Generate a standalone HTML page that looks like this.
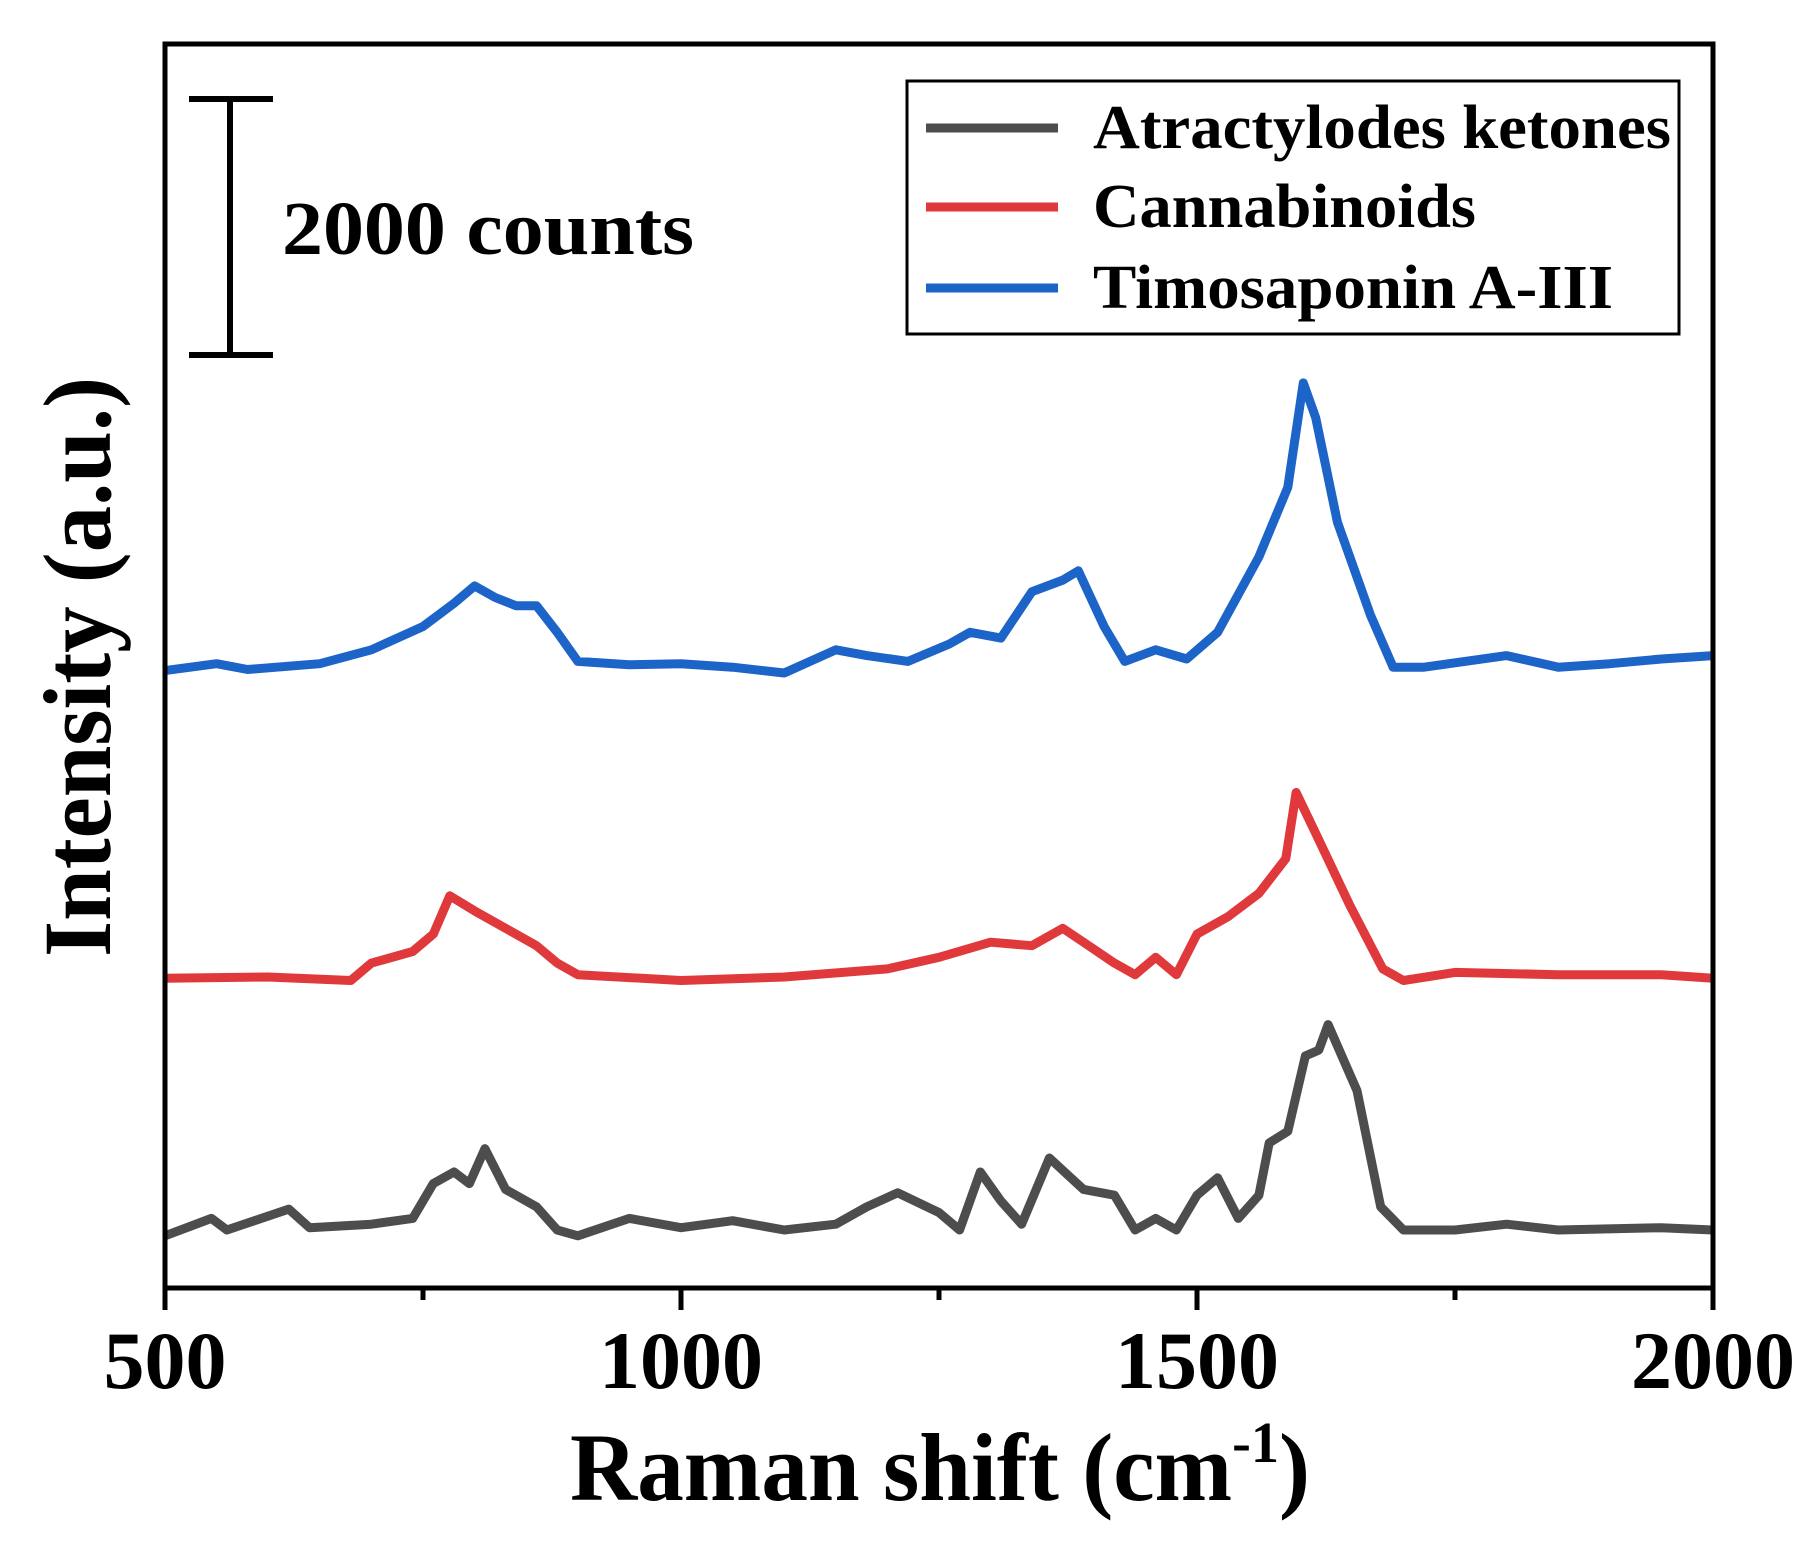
<!DOCTYPE html>
<html><head><meta charset="utf-8"><style>
html,body{margin:0;padding:0;background:#fff;}
svg{display:block;font-family:"Liberation Serif",serif;font-weight:bold;}
</style></head><body>
<svg id="chart" width="1809" height="1555" viewBox="0 0 1809 1555" xmlns="http://www.w3.org/2000/svg">
<g id="series"></g>
<rect x="165" y="44" width="1548" height="1244" fill="none" stroke="#000" stroke-width="5"/>
<g id="ticks"></g>
<text x="940" y="1500" font-size="96" text-anchor="middle" textLength="740" lengthAdjust="spacingAndGlyphs">Raman shift (cm<tspan font-size="58" dy="-38">-1</tspan><tspan dy="38">)</tspan></text>
<text transform="translate(110,667) rotate(-90)" font-size="96" text-anchor="middle" textLength="580" lengthAdjust="spacingAndGlyphs">Intensity (a.u.)</text>
<g stroke="#000" stroke-width="6">
<line x1="230" y1="99" x2="230" y2="355"/><line x1="189" y1="99" x2="273" y2="99"/><line x1="189" y1="355" x2="273" y2="355"/>
</g>
<text x="282" y="254" font-size="76" textLength="412" lengthAdjust="spacingAndGlyphs">2000 counts</text>
<g>
<rect x="907" y="81" width="772" height="253" fill="#fff" stroke="#000" stroke-width="3"/>
<line x1="926" y1="128" x2="1058" y2="128" stroke="#4d4d4d" stroke-width="9"/>
<text x="1093" y="148" font-size="62" textLength="578" lengthAdjust="spacingAndGlyphs">Atractylodes ketones</text>
<line x1="926" y1="207" x2="1058" y2="207" stroke="#e0393c" stroke-width="9"/>
<text x="1093" y="227" font-size="62" textLength="383" lengthAdjust="spacingAndGlyphs">Cannabinoids</text>
<line x1="926" y1="288" x2="1058" y2="288" stroke="#1d64c8" stroke-width="9"/>
<text x="1093" y="308" font-size="62" textLength="520" lengthAdjust="spacingAndGlyphs">Timosaponin A-III</text>
</g>
</svg>
<script>
const xTicks = [500, 1000, 1500, 2000];
const xMinorTicks = [750, 1250, 1750];
const blueX = [500,550,580,650,700,750,780,800,820,840,860,880,900,950,1000,1050,1100,1150,1180,1220,1260,1280,1310,1340,1370,1385,1410,1430,1460,1490,1520,1560,1588,1603,1615,1636,1668,1690,1720,1800,1850,1900,1950,2000];
const blueY = [532,538,533,538,550,570,590,605,595,588,588,565,540,537,538,535,530,550,545,540,555,565,560,600,610,618,570,540,550,542,565,630,690,780,750,660,580,535,535,545,535,538,542,545];
const redX = [500,600,680,700,740,760,776,800,830,860,880,900,1000,1100,1200,1250,1300,1340,1370,1390,1420,1440,1460,1480,1500,1530,1560,1586,1596,1616,1648,1680,1700,1750,1850,1950,2000];
const redY = [267,268,265,280,290,305,338,325,310,295,280,270,265,268,275,285,298,295,310,298,280,270,285,270,305,320,340,370,427,390,330,275,265,272,270,270,267];
const blackX = [500,545,560,620,640,700,740,760,780,795,810,830,860,880,900,950,1000,1050,1100,1150,1180,1210,1250,1270,1290,1310,1330,1357,1390,1420,1440,1460,1480,1500,1520,1540,1560,1570,1588,1605,1618,1627,1655,1678,1700,1750,1800,1850,1950,2000];
const blackY = [45,60,50,68,52,55,60,90,100,90,120,85,70,50,45,60,52,58,50,55,70,82,65,50,100,75,55,112,85,80,50,60,50,80,95,60,80,125,135,200,205,227,170,70,50,50,55,50,52,50];

const X0=165, X1=1713, Y0=1288, Y1=44;
function xs(v){return X0+(v-500)/1500*(X1-X0);}
function ys(v){return Y0-v*(Y0-Y1)/1072;}
const NS='http://www.w3.org/2000/svg';
const sg=document.getElementById('series');
function draw(xa,ya,color,name){
  const p=document.createElementNS(NS,'polyline');
  p.setAttribute('points',xa.map((x,i)=>xs(x).toFixed(1)+','+ys(ya[i]).toFixed(1)).join(' '));
  p.setAttribute('fill','none');p.setAttribute('stroke',color);
  p.setAttribute('stroke-width','9');p.setAttribute('stroke-linejoin','round');
  
  
  sg.appendChild(p);
}
draw(blackX,blackY,'#4d4d4d','series-atractylodes-ketones');
draw(redX,redY,'#e0393c','series-cannabinoids');
draw(blueX,blueY,'#1d64c8','series-timosaponin-a-iii');
const tg=document.getElementById('ticks');
xTicks.forEach(t=>{
  const l=document.createElementNS(NS,'line');
  l.setAttribute('x1',xs(t));l.setAttribute('x2',xs(t));l.setAttribute('y1',Y0);l.setAttribute('y2',Y0+22);
  l.setAttribute('stroke','#000');l.setAttribute('stroke-width','5');
  
  
  tg.appendChild(l);
  const tx=document.createElementNS(NS,'text');
  tx.setAttribute('x',xs(t));tx.setAttribute('y',1388);tx.setAttribute('text-anchor','middle');
  tx.setAttribute('font-size','82');
  tx.textContent=t;
  
  
  tg.appendChild(tx);
});
xMinorTicks.forEach(t=>{
  const l=document.createElementNS(NS,'line');
  l.setAttribute('x1',xs(t));l.setAttribute('x2',xs(t));l.setAttribute('y1',Y0);l.setAttribute('y2',Y0+12);
  l.setAttribute('stroke','#000');l.setAttribute('stroke-width','5');
  
  
  tg.appendChild(l);
});
</script>
</body></html>
